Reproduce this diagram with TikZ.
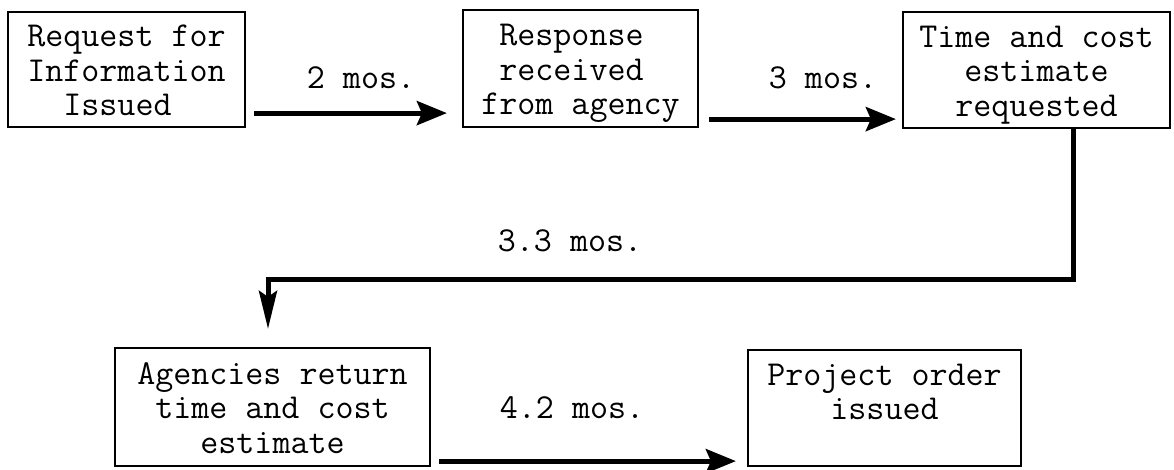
\documentclass[tikz,border=0pt]{standalone}
\usepackage{fontspec}
\usetikzlibrary{arrows.meta}
\newcommand\boxlines[2]{\begin{tabular}[t]{@{}#1@{}}#2\end{tabular}}
\begin{document}
\begin{tikzpicture}[x=1pt,y=-1pt,
  stepbox/.style={draw, line width=2.2pt, inner sep=0pt,
    font=\fontsize{35}{34.5}\selectfont\ttfamily, text height=23pt, text depth=69pt},
  lbl/.style={font=\fontsize{35}{34.5}\selectfont\ttfamily, anchor=base, inner sep=0pt},
  flow/.style={line width=5pt, -{Stealth[length=30pt,width=24pt,inset=5pt]}},
  drop/.style={line width=5pt, -{Stealth[length=38pt,width=18pt,inset=6pt]}}
]
\useasboundingbox (0,0) rectangle (1174,469);
\node[stepbox, minimum width=237pt, minimum height=115pt] (b1) at (126.5,69.5)
  {\boxlines{l}{Request for\\Information\\\phantom{II}Issued}};
\node[stepbox, minimum width=235pt, minimum height=117pt] (b2) at (580.5,68.5)
  {\boxlines{l}{\phantom{x}Response\\\phantom{x}received\\from agency}};
\node[stepbox, minimum width=267pt, minimum height=116pt] (b3) at (1036.5,70)
  {\boxlines{c}{Time and cost\\estimate\\requested}};
\node[stepbox, minimum width=315pt, minimum height=118pt] (b4) at (272.5,407)
  {\boxlines{c}{Agencies return\\time and cost\\estimate}};
\node[stepbox, minimum width=273pt, minimum height=116pt] (b5) at (884.5,408)
  {\boxlines{c}{Project order\\issued}};

\node[lbl] (l1) at (361,88) {2 mos.};
\node[lbl] (l2) at (823,88) {3 mos.};
\node[lbl] (l3) at (570,251) {3.3 mos.};
\node[lbl] (l4) at (572,418) {4.2 mos.};

\draw[flow] ([xshift=8pt,yshift=15pt]b1.south east) -- ([xshift=-15pt,yshift=15pt]b2.south west);
\draw[flow] ([xshift=10pt,yshift=9pt]b2.south east) -- ([xshift=-6pt,yshift=10pt]b3.south west);
\draw[drop] ([xshift=36.5pt]b3.south) -- ++(0,150) -| ([xshift=-4.5pt,yshift=18pt]b4.north);
\draw[flow] ([xshift=8pt,yshift=6pt]b4.south east) -- ([xshift=-11pt,yshift=6pt]b5.south west);
\end{tikzpicture}
\end{document}
